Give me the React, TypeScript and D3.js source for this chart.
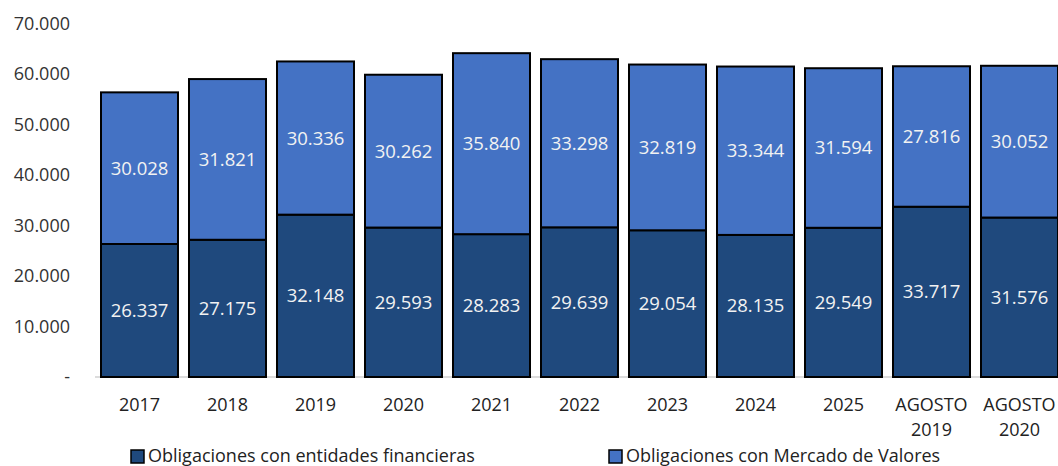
import React from "react";
import * as d3 from "d3";

const categories = ["2017", "2018", "2019", "2020", "2021", "2022", "2023", "2024", "2025", "AGOSTO 2019", "AGOSTO 2020"];
const financieras = [26337, 27175, 32148, 29593, 28283, 29639, 29054, 28135, 29549, 33717, 31576];
const mercado = [30028, 31821, 30336, 30262, 35840, 33298, 32819, 33344, 31594, 27816, 30052];
const yTicks = [0, 10000, 20000, 30000, 40000, 50000, 60000, 70000];
const seriesNames = ["Obligaciones con entidades financieras", "Obligaciones con Mercado de Valores"];

const DARK = "#1F497D";
const LIGHT = "#4472C4";
const FONT = "'Open Sans', Lato, sans-serif";

const fmt = (v: number) => (v === 0 ? "-" : d3.format(",")(v).replace(/,/g, "."));

export default function App() {
  const W = 1058;
  const H = 466;
  const x = d3.scaleBand<string>().domain(categories).range([95.5, 1063.5]).paddingInner(0.125).paddingOuter(0.0625);
  const y = d3.scaleLinear().domain([0, 70000]).range([377, 23.5]);
  const bw = x.bandwidth();

  return (
    <svg width={W} height={H} style={{ position: "absolute", left: 0, top: 0, background: "#fff" }} fontFamily={FONT}>
      {yTicks.map((t) => (
        <text key={t} x={70} y={y(t)} dy="0.35em" textAnchor="end" fontSize={18} fill="#333">
          {fmt(t)}
        </text>
      ))}
      <line x1={95} x2={W} y1={y(0)} y2={y(0)} stroke="#d0d0d0" strokeWidth={1.5} />
      {categories.map((c, i) => {
        const x0 = x(c)!;
        const f = financieras[i];
        const m = mercado[i];
        return (
          <g key={c}>
            <rect x={x0} y={y(f)} width={bw} height={y(0) - y(f)} fill={DARK} stroke="#000" strokeWidth={2} />
            <rect x={x0} y={y(f + m)} width={bw} height={y(f) - y(f + m)} fill={LIGHT} stroke="#000" strokeWidth={2} />
            <text x={x0 + bw / 2} y={y(f / 2)} dy="0.35em" textAnchor="middle" fontSize={18.5} fill="#f2f2f2">
              {fmt(f)}
            </text>
            <text x={x0 + bw / 2} y={y(f + m / 2)} dy="0.35em" textAnchor="middle" fontSize={18.5} fill="#f2f2f2">
              {fmt(m)}
            </text>
            {c.split(" ").map((part, k) => (
              <text key={k} x={x0 + bw / 2} y={405 + k * 25} dy="0.35em" textAnchor="middle" fontSize={18} fill="#222">
                {part}
              </text>
            ))}
          </g>
        );
      })}
      {seriesNames.map((s, i) => {
        const lx = i === 0 ? 131 : 609;
        return (
          <g key={s}>
            <rect x={lx} y={450} width={13} height={13} fill={i === 0 ? DARK : LIGHT} stroke="#000" strokeWidth={1.5} />
            <text x={lx + 17} y={456} dy="0.35em" fontSize={18} fill="#222">
              {s}
            </text>
          </g>
        );
      })}
    </svg>
  );
}
